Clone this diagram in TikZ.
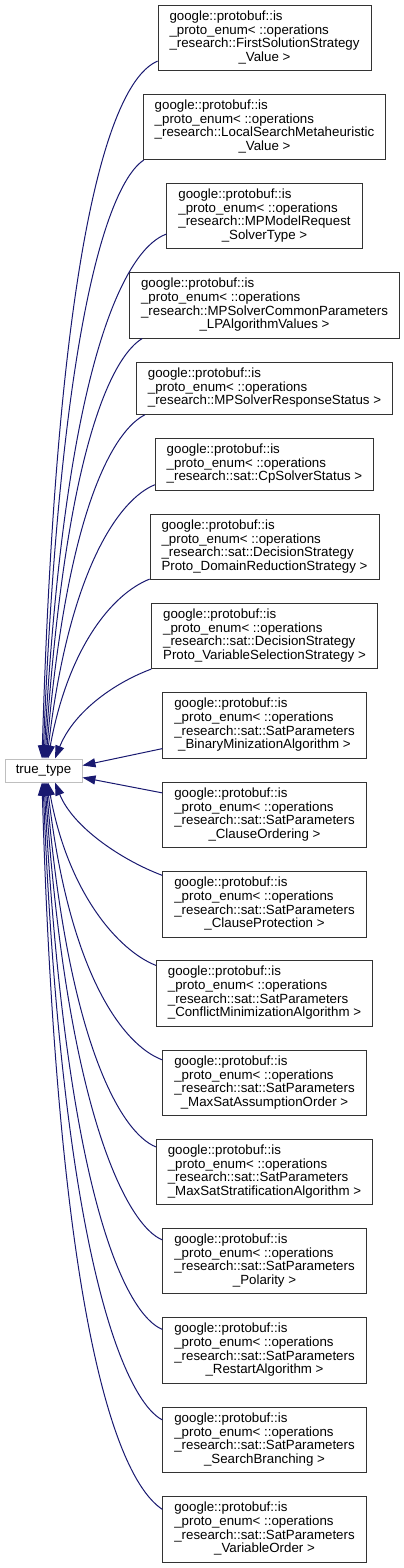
\documentclass[tikz,border=0pt]{standalone}
\usepackage{fontspec}
\setmainfont{Liberation Sans}
\usepackage{tikz}
\usetikzlibrary{arrows.meta,calc}
\definecolor{edgenavy}{RGB}{25,25,112}
\definecolor{basegray}{RGB}{191,191,191}
\newcommand{\isproto}[2]{\begin{tabular}{@{}l@{}}google::protobuf::is\\\_proto\_enum< ::operations\\#1\\\multicolumn{1}{@{}c@{}}{#2}\end{tabular}}
\newcommand{\isprotoshort}[1]{\begin{tabular}{@{}l@{}}google::protobuf::is\\\_proto\_enum< ::operations\\\multicolumn{1}{@{}c@{}}{#1}\end{tabular}}
\tikzset{
  protobox/.style={
    draw=black!80,line width=0.9pt,fill=white,inner xsep=11.5pt,inner ysep=5.4pt,
    font=\fontsize{13.3}{13.3}\selectfont
  },
  basebox/.style={
    draw=basegray,line width=0.9pt,inner xsep=10.8pt,inner ysep=4.9pt,
    text height=9.3pt,text depth=4pt,font=\fontsize{13.3}{13.3}\selectfont
  },
  inheritline/.style={-{Triangle[length=13pt,width=9pt]},line width=1pt,draw=edgenavy}
}
\begin{document}
\begin{tikzpicture}[x=1pt,y=-1pt]
  \useasboundingbox (0,0) rectangle (404,1568);
  \node[basebox] (truetype) at (43.5,770.5) {true\_type};

  \node[protobox] (fsstrat) at (264.5,38) {\isproto{\_research::FirstSolutionStrategy}{\_Value >}};
  \node[protobox] (lsmeta) at (264.5,127) {\isproto{\_research::LocalSearchMetaheuristic}{\_Value >}};
  \node[protobox] (solvertype) at (264.5,216) {\isproto{\_research::MPModelRequest}{\_SolverType >}};
  \node[protobox] (lpalgo) at (264.5,305.5) {\isproto{\_research::MPSolverCommonParameters}{\_LPAlgorithmValues >}};
  \node[protobox] (mpstatus) at (264.5,388.5) {\isprotoshort{\_research::MPSolverResponseStatus >}};
  \node[protobox] (cpstatus) at (264.5,464.5) {\isprotoshort{\_research::sat::CpSolverStatus >}};
  \node[protobox] (domred) at (264.5,547) {\isproto{\_research::sat::DecisionStrategy}{Proto\_DomainReductionStrategy >}};
  \node[protobox] (varsel) at (264.5,636) {\isproto{\_research::sat::DecisionStrategy}{Proto\_VariableSelectionStrategy >}};
  \node[protobox] (binmin) at (264.5,725.5) {\isproto{\_research::sat::SatParameters}{\_BinaryMinizationAlgorithm >}};
  \node[protobox] (clauseord) at (264.5,815) {\isproto{\_research::sat::SatParameters}{\_ClauseOrdering >}};
  \node[protobox] (clauseprot) at (264.5,904.5) {\isproto{\_research::sat::SatParameters}{\_ClauseProtection >}};
  \node[protobox] (conflictmin) at (264.5,993.5) {\isproto{\_research::sat::SatParameters}{\_ConflictMinimizationAlgorithm >}};
  \node[protobox] (maxsatorder) at (264.5,1083) {\isproto{\_research::sat::SatParameters}{\_MaxSatAssumptionOrder >}};
  \node[protobox] (maxsatstrat) at (264.5,1172) {\isproto{\_research::sat::SatParameters}{\_MaxSatStratificationAlgorithm >}};
  \node[protobox] (polarity) at (264.5,1261) {\isproto{\_research::sat::SatParameters}{\_Polarity >}};
  \node[protobox] (restart) at (264.5,1350.5) {\isproto{\_research::sat::SatParameters}{\_RestartAlgorithm >}};
  \node[protobox] (searchbr) at (264.5,1440) {\isproto{\_research::sat::SatParameters}{\_SearchBranching >}};
  \node[protobox] (varorder) at (264.5,1529.5) {\isproto{\_research::sat::SatParameters}{\_VariableOrder >}};

  % edges from above
  \draw[inheritline] ($(fsstrat.south west)+(0,-10)$) .. controls +(-28,12) and +(18,-610) .. ($(truetype.north)+(-1.5,0)$);
  \draw[inheritline] ($(lsmeta.south west)+(1,0)$) .. controls +(-22,14) and +(20,-500) .. ($(truetype.north)+(-0.5,0)$);
  \draw[inheritline] ($(solvertype.south west)+(0,-15)$) .. controls +(-35,12) and +(22,-420) .. ($(truetype.north)+(0.5,0)$);
  \draw[inheritline] ($(lpalgo.south west)+(13,0)$) .. controls +(-25,15) and +(22,-330) .. ($(truetype.north)+(1.5,0)$);
  \draw[inheritline] ($(mpstatus.south west)+(9,0)$) .. controls +(-28,14) and +(22,-260) .. ($(truetype.north)+(2.5,0)$);
  \draw[inheritline] ($(cpstatus.south west)+(0,-6)$) .. controls +(-35,14) and +(22,-190) .. ($(truetype.north)+(3.5,0)$);
  \draw[inheritline] ($(domred.south west)+(0,-1)$) .. controls +(-38,15) and +(20,-110) .. ($(truetype.north)+(4.5,0)$);
  \draw[inheritline] (varsel.south west) .. controls +(-40,15) and +(18,-45) .. ($(truetype.north)+(11.5,0)$);
  % side edges
  \draw[inheritline] ($(binmin.south west)+(0,-10)$) -- ($(truetype.east)+(0,-5)$);
  \draw[inheritline] ($(clauseord.north west)+(0,11)$) -- ($(truetype.east)+(0,7)$);
  % edges from below
  \draw[inheritline] ($(clauseprot.north west)+(0,4)$) .. controls +(-40,-15) and +(18,45) .. ($(truetype.south)+(11.5,0)$);
  \draw[inheritline] ($(conflictmin.north west)+(0,5)$) .. controls +(-38,-15) and +(20,110) .. ($(truetype.south)+(4.5,0)$);
  \draw[inheritline] ($(maxsatorder.north west)+(0,10)$) .. controls +(-40,-15) and +(22,190) .. ($(truetype.south)+(3.5,0)$);
  \draw[inheritline] ($(maxsatstrat.north west)+(0,8)$) .. controls +(-35,-14) and +(22,260) .. ($(truetype.south)+(2.5,0)$);
  \draw[inheritline] ($(polarity.north west)+(0,12)$) .. controls +(-35,-14) and +(22,330) .. ($(truetype.south)+(1.5,0)$);
  \draw[inheritline] ($(restart.north west)+(0,12)$) .. controls +(-35,-14) and +(22,420) .. ($(truetype.south)+(0.5,0)$);
  \draw[inheritline] ($(searchbr.north west)+(0,13)$) .. controls +(-32,-16) and +(20,500) .. ($(truetype.south)+(-0.5,0)$);
  \draw[inheritline] ($(varorder.north west)+(0,13)$) .. controls +(-30,-20) and +(18,610) .. ($(truetype.south)+(-1.5,0)$);
\end{tikzpicture}
\end{document}
